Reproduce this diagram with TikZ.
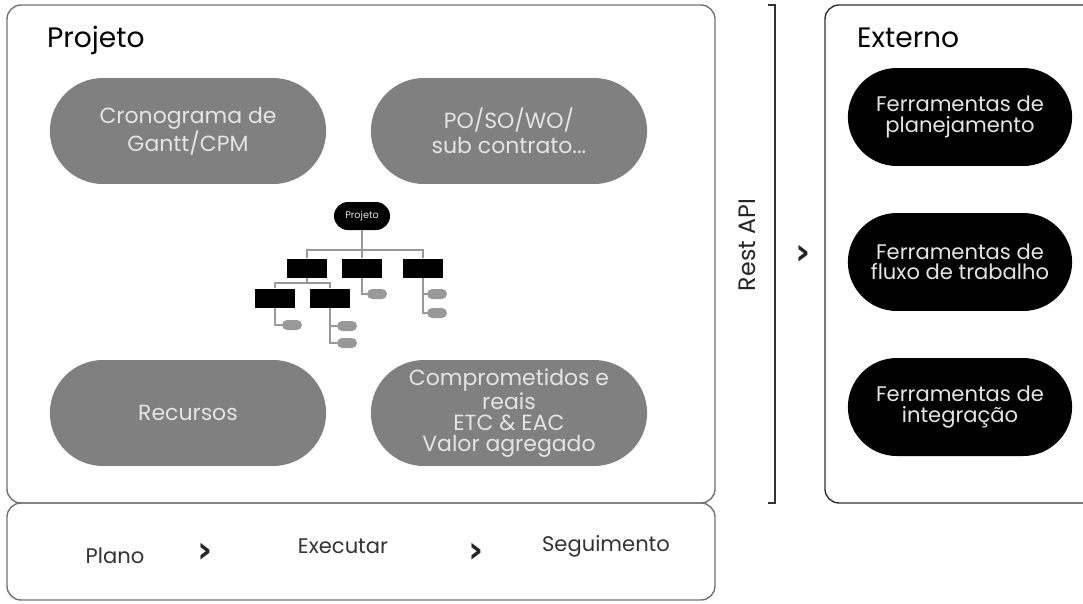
\documentclass[tikz,border=0pt]{standalone}
\usepackage{fontspec}
\setmainfont{Poppins}
\newfontfamily\symfont{DejaVu Sans}
\usetikzlibrary{shapes.misc}

\definecolor{pillgrey}{gray}{0.5}
\definecolor{pilltext}{gray}{0.9}
\definecolor{framegrey}{gray}{0.45}
\definecolor{leafgrey}{gray}{0.6}

\tikzset{
  greypill/.style={rounded rectangle, fill=pillgrey, text=pilltext, align=center,
    minimum width=5.76cm, minimum height=2.12cm, font=\fontsize{12.5}{14}\selectfont},
  blackpill/.style={rounded rectangle, fill=black, text=pilltext, align=center,
    minimum width=4.72cm, minimum height=1.96cm, font=\fontsize{12}{11.5}\selectfont},
  wbsbox/.style={fill=black, minimum width=0.8cm, minimum height=0.38cm, inner sep=0pt},
  wbsleaf/.style={rounded rectangle, fill=leafgrey, minimum width=0.4cm, minimum height=0.2cm, inner sep=0pt},
  wbsline/.style={draw=leafgrey, line width=1.2pt},
  frame/.style={draw=framegrey, line width=0.8pt, rounded corners=8pt},
  steptext/.style={font=\fontsize{12}{14}\selectfont, text=black!80},
  chevron/.style={font=\symfont\bfseries\fontsize{21}{22}\selectfont, text=black!85},
}

\begin{document}
\begin{tikzpicture}[x=0.02cm, y=-0.02cm]
			%%%%% START %%%%%
			\clip (0,0) rectangle (1083,603);
			
			% frames
			\draw[frame] (7,5) rectangle (715,503);
			\draw[frame] (7,503) rectangle (715,600);
			\draw[frame, draw=black!80] (825,5) rectangle (1100,503);
			\draw[line width=1pt, black!80] (768,5) -- (775,5) -- (775,503) -- (768,503);
			
			\node[anchor=base west, font=\fontsize{16}{19}\selectfont] (projtitle) at (41,47) {Projeto};
			\node[anchor=base west, font=\fontsize{16}{19}\selectfont] (exttitle) at (851,47) {Externo};
			
			% project blocks
			\node[greypill] (cronograma) at (188,131) {Cronograma de\\Gantt/CPM};
			\node[greypill] (pedidos) at (509,131) {PO/SO/WO/\\sub contrato...};
			\node[greypill] (recursos) at (188,413) {Recursos};
			\node[greypill, font=\fontsize{12.5}{12}\selectfont] (custos) at (509,413) {Comprometidos e\\reais\\ETC \& EAC\\Valor agregado};
			
			% wbs tree
			\node[rounded rectangle, fill=black, text=pilltext, minimum width=1.12cm, minimum height=0.56cm,
			  inner sep=0pt, font=\fontsize{5.5}{6}\selectfont] (root) at (362,216) {Projeto};
			\node[wbsbox] (b1) at (307,268) {};
			\node[wbsbox] (b2) at (362,268) {};
			\node[wbsbox] (b3) at (423,268) {};
			\node[wbsbox] (b1a) at (275,298) {};
			\node[wbsbox] (b1b) at (330,298) {};
			\node[wbsleaf] (l1) at (292,325) {};
			\node[wbsleaf] (l2) at (347,326) {};
			\node[wbsleaf] (l3) at (347,343) {};
			\node[wbsleaf] (l4) at (377,294) {};
			\node[wbsleaf] (l5) at (437,294) {};
			\node[wbsleaf] (l6) at (437,313) {};
			
			\draw[wbsline] (root.south) -- (b2.north);
			\draw[wbsline] (b1.north) -- ++(0,-8) -| (b3.north);
			\draw[wbsline] (b1.south) -- ++(0,5.5);
			\draw[wbsline] (b1a.north) -- ++(0,-5) -| (b1b.north);
			\draw[wbsline] (b1a.south) |- (l1.west);
			\draw[wbsline] (b1b.south) |- (l2.west);
			\draw[wbsline] (b1b.south) |- (l3.west);
			\draw[wbsline] (b2.south) |- (l4.west);
			\draw[wbsline] (b3.south) |- (l5.west);
			\draw[wbsline] (b3.south) |- (l6.west);
			
			% api
			\node[rotate=90, font=\fontsize{13.5}{16}\selectfont, text=black!85] (restapi) at (747,245) {Rest API};
			\node[chevron] (apichev) at (803,255) {›};
			
			% external tools
			\node[blackpill] (planej) at (960,117) {Ferramentas de\\planejamento};
			\node[blackpill] (fluxo) at (960,262) {Ferramentas de\\fluxo de trabalho};
			\node[blackpill] (integr) at (960,407) {Ferramentas de\\integração};
			
			% phases
			\node[steptext] (plano) at (115,556) {Plano};
			\node[chevron] (chevA) at (205,553) {›};
			\node[steptext] (executar) at (343,546) {Executar};
			\node[chevron] (chevB) at (476,553) {›};
			\node[steptext] (seguimento) at (606,546) {Seguimento};
			
			%%%%% END %%%%%
\end{tikzpicture}
\end{document}
